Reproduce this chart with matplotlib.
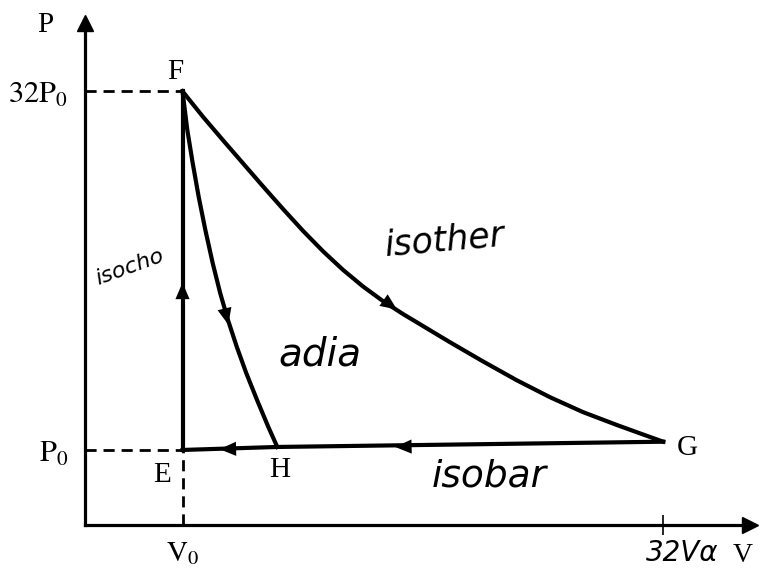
import matplotlib.pyplot as plt

# schematic P-V cycle (units: V0 -> 1, P0 -> 1, not to scale)
V_E, P_E = 1.0, 1.0
V_F, P_F = 1.0, 5.78
V_G, P_G = 5.93, 1.11
V_H, P_H = 1.972, 1.04

# isotherm F -> G
iso_V = [1.0, 1.21, 1.415, 1.621, 1.826, 2.031, 2.236, 2.441, 2.646, 2.851,
         3.056, 3.262, 3.744, 4.082, 4.431, 4.769, 5.108, 5.456, 5.692, 5.93]
iso_P = [5.78, 5.44, 5.128, 4.819, 4.512, 4.211, 3.92, 3.648, 3.4, 3.179,
         2.984, 2.811, 2.435, 2.18, 1.927, 1.703, 1.504, 1.332, 1.221, 1.11]

# adiabat F -> H
adi_V = [1.0, 1.049, 1.104, 1.166, 1.234, 1.309, 1.386, 1.466, 1.557,
         1.653, 1.764, 1.88, 1.972]
adi_P = [5.78, 5.267, 4.827, 4.373, 3.933, 3.493, 3.093, 2.733, 2.373,
         2.027, 1.667, 1.307, 1.04]

# isobar G -> H -> E
bar_V = [V_G, V_H, V_E]
bar_P = [P_G, P_H, P_E]

# arrows: (tail, tip)
arrows = [
    ((1.0, 2.9), (1.0, 3.23)),
    ((1.40, 3.05), (1.47, 2.67)),
    ((2.95, 3.1), (3.2, 2.87)),
    ((1.7, 1.02), (1.38, 1.01)),
    ((3.5, 1.05), (3.18, 1.04)),
]

point_names = ["F", "E", "H", "G"]
point_pos = [(0.93, 6.04), (0.79, 0.67), (2.0, 0.73), (6.18, 1.03)]

notes = ["isother", "adia", "isobar", "isocho"]
note_pos = [(3.69, 3.8), (2.41, 2.27), (4.15, 0.65), (0.46, 3.43)]
note_size = [25, 28, 27, 16]
note_rot = [5, 0, 0, 20]

plt.rcParams["mathtext.fontset"] = "stix"
serif = "Liberation Serif"

fig = plt.figure(figsize=(7.59, 5.76), dpi=100)
ax = fig.add_axes([85 / 759, 51 / 576, 665 / 759, 502 / 576])
ax.set_xlim(0, 6.82)
ax.set_ylim(0, 6.69)

for s in ["top", "right"]:
    ax.spines[s].set_visible(False)
for s in ["left", "bottom"]:
    ax.spines[s].set_linewidth(2.3)

# axis arrowheads
ax.plot(1, 0, ">k", ms=12, transform=ax.transAxes, clip_on=False)
ax.plot(0, 1, "^k", ms=12, transform=ax.transAxes, clip_on=False)

lw = 3.0
ax.plot([V_E, V_F], [P_E, P_F], color="black", lw=lw)
ax.plot(iso_V, iso_P, color="black", lw=lw, solid_joinstyle="round")
ax.plot(adi_V, adi_P, color="black", lw=lw, solid_joinstyle="round")
ax.plot(bar_V, bar_P, color="black", lw=lw)

# dashed guides
dash = dict(color="black", lw=2.0, dashes=(4, 2.5))
ax.plot([0, V_F], [P_F, P_F], **dash)
ax.plot([0, V_E], [P_E, P_E], **dash)
ax.plot([V_E, V_E], [0, P_E], **dash)

for (tail, tip) in arrows:
    ax.annotate("", xy=tip, xytext=tail,
                arrowprops=dict(arrowstyle="-|>,head_length=0.7,head_width=0.3",
                                mutation_scale=17, lw=0, color="black",
                                shrinkA=0, shrinkB=0))

# ticks
ax.set_yticks([P_E, P_F])
ax.set_yticklabels([r"$\mathrm{P_0}$", r"$\mathrm{32P_0}$"], fontsize=22)
ax.set_xticks([V_E])
ax.set_xticklabels([r"$\mathrm{V_0}$"], fontsize=21)
ax.tick_params(axis="y", length=0, pad=12)
ax.tick_params(axis="x", length=0, pad=10)
ax.set_xticks([V_G], minor=True)
ax.tick_params(axis="x", which="minor", direction="inout", length=14, width=1.2)

for name, (x, y) in zip(point_names, point_pos):
    ax.text(x, y, name, fontsize=21, family=serif, ha="center", va="center")

for note, (x, y), fs, r in zip(notes, note_pos, note_size, note_rot):
    ax.text(x, y, note, fontsize=fs, family="DejaVu Sans", style="italic",
            ha="center", va="center", rotation=r)

ax.text(6.12, -0.37, "32Vα", fontsize=20, family="DejaVu Sans", style="italic",
        ha="center", va="center", clip_on=False)
ax.text(6.64, -0.4, "V", fontsize=20, family=serif, ha="left", va="center",
        clip_on=False)
ax.text(-0.41, 6.67, "P", fontsize=21, family=serif, ha="center", va="center",
        clip_on=False)

fig.savefig("out.png", dpi=100)
